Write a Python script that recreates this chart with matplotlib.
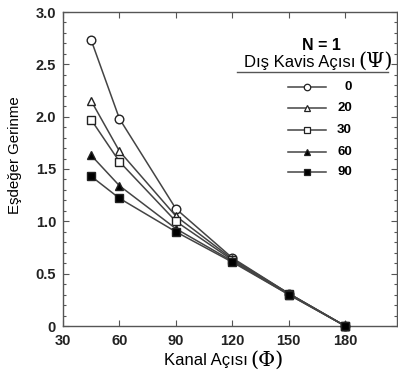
import matplotlib
matplotlib.use("Agg")
import matplotlib.pyplot as plt
from matplotlib.ticker import MultipleLocator

# Data
channel_angle = [45, 60, 90, 120, 150, 180]
psi_labels = ["0", "20", "30", "60", "90"]
strain_0 = [2.73, 1.98, 1.12, 0.65, 0.31, 0.0]
strain_20 = [2.15, 1.67, 1.05, 0.64, 0.31, 0.0]
strain_30 = [1.97, 1.57, 1.00, 0.63, 0.31, 0.0]
strain_60 = [1.63, 1.34, 0.93, 0.62, 0.30, 0.0]
strain_90 = [1.43, 1.22, 0.90, 0.61, 0.30, 0.0]
x_ticks = [30, 60, 90, 120, 150, 180]
y_ticks = [0, 0.5, 1.0, 1.5, 2.0, 2.5, 3.0]
y_tick_labels = ["0", "0.5", "1.0", "1.5", "2.0", "2.5", "3.0"]

series = [strain_0, strain_20, strain_30, strain_60, strain_90]
styles = [("o", "white", 6.2), ("^", "white", 6.2), ("s", "white", 6.2),
          ("^", "black", 6.0), ("s", "black", 6.0)]

plt.rcParams['font.family'] = ['Liberation Sans', 'DejaVu Sans']

W, H = 398, 374
fig = plt.figure(figsize=(W / 100, H / 100), dpi=100)
L, R, T, B = 63, 397, 12, 326
ax = fig.add_axes([L / W, 1 - B / H, (R - L) / W, (B - T) / H])

line_color = "#444444"
for ys, (m, fc, ms) in zip(series, styles):
    ax.plot(channel_angle, ys, color=line_color, lw=1.1, marker=m, ms=ms,
            mfc=fc, mec="#222222", mew=1.0, clip_on=False, zorder=3)

ax.set_xlim(30, 207.5)
ax.set_ylim(0, 3.0)
ax.set_xticks(x_ticks)
ax.set_xticklabels([str(v) for v in x_ticks], fontsize=10.5, fontweight="bold",
                   color="#222222")
ax.set_yticks(y_ticks)
ax.set_yticklabels(y_tick_labels, fontsize=10.5, fontweight="bold",
                   color="#222222")
ax.yaxis.set_minor_locator(MultipleLocator(0.1))
ax.tick_params(which="both", direction="in", top=True, right=True,
               color="#555555", width=0.8)
ax.tick_params(which="major", length=4)
ax.tick_params(axis="x", which="major", pad=6)
ax.tick_params(axis="y", which="major", pad=5)
ax.tick_params(which="minor", length=2)
for s in ax.spines.values():
    s.set_color("#555555")
    s.set_linewidth(1.0)

# Axis labels
fig.text(15 / W, 1 - 155 / H, "Eşdeğer Gerinme", rotation=90, fontsize=10.8,
         ha="center", va="center")
fig.text(248 / W, 1 - 361 / H, "Kanal Açısı", fontsize=12, ha="right", va="center")
fig.text(250 / W, 1 - 360 / H, "(Φ)", fontsize=15, ha="left", va="center",
         family="DejaVu Serif")

# Legend
def px(x, y):
    return (x - L) / (R - L), (B - y) / (B - T)

ax.text(*px(321, 45), "N = 1", transform=ax.transAxes, fontsize=11.5,
        fontweight="bold", ha="center", va="center")
ax.text(*px(355, 62), "Dış Kavis Açısı", transform=ax.transAxes, fontsize=12,
        ha="right", va="center")
ax.text(*px(358, 61), "(Ψ)", transform=ax.transAxes, fontsize=15,
        ha="left", va="center", family="DejaVu Serif")
ax.plot([px(237, 72)[0], px(388, 72)[0]], [px(237, 72)[1]] * 2,
        transform=ax.transAxes, color="#555555", lw=1.0)
rows = [87, 108, 130, 152, 172]
for lab, y, (m, fc, ms) in zip(psi_labels, rows, styles):
    x0, yy = px(288, y)
    x1, _ = px(326, y)
    xm, _ = px(307, y)
    ax.plot([x0, x1], [yy, yy], transform=ax.transAxes, color=line_color, lw=1.1)
    ax.plot([xm], [yy], transform=ax.transAxes, marker=m, ms=ms * 0.75,
            mfc=fc, mec="#222222", mew=0.9, color=line_color)
    ax.text(*px(352, y), lab, transform=ax.transAxes, fontsize=9.5,
            fontweight="bold", ha="right", va="center")

fig.savefig("out.png", dpi=100)
